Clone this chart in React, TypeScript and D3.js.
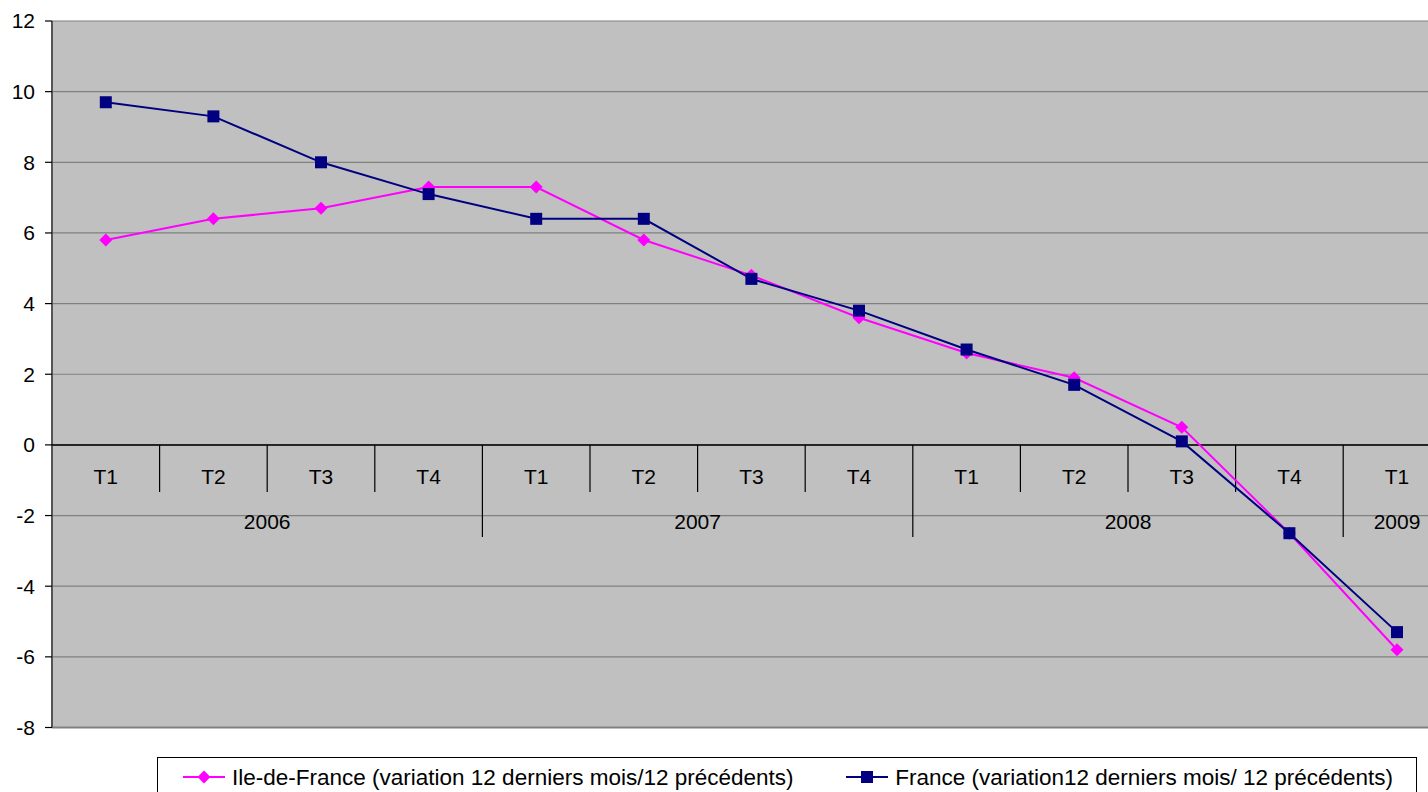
import React from "react";
import * as d3 from "d3";

const quarters = ["T1", "T2", "T3", "T4", "T1", "T2", "T3", "T4", "T1", "T2", "T3", "T4", "T1"];
const years = ["2006", "2007", "2008", "2009"];
const yearSpans = [4, 4, 4, 1];
const ileDeFrance = [5.8, 6.4, 6.7, 7.3, 7.3, 5.8, 4.8, 3.6, 2.6, 1.9, 0.5, -2.5, -5.8];
const france = [9.7, 9.3, 8.0, 7.1, 6.4, 6.4, 4.7, 3.8, 2.7, 1.7, 0.1, -2.5, -5.3];
const yTicks = [12, 10, 8, 6, 4, 2, 0, -2, -4, -6, -8];
const legendLabels = [
  "Ile-de-France (variation 12 derniers mois/12 précédents)",
  "France (variation12 derniers mois/ 12 précédents)",
];

const W = 1428;
const H = 792;
const left = 52;
const top = 21;
const bottom = 727.5;
const band = 107.6;
const font = "Liberation Sans, Arial, sans-serif";
const tickFont = 21;
const legendFont = 22.5;
const sq = 12;
const dr = 6.5;

export default function App() {
  const idx = quarters.map((_, i) => i);
  const x = d3
    .scaleBand<number>()
    .domain(idx)
    .range([left, left + band * quarters.length])
    .paddingInner(0)
    .paddingOuter(0);
  const cx = (i: number) => (x(i) as number) + x.bandwidth() / 2;
  const y = d3.scaleLinear().domain([-8, 12]).range([bottom, top]);
  const right = left + band * quarters.length;

  const line = d3
    .line<number>()
    .x((_, i) => cx(i))
    .y((d) => y(d));

  const y0 = y(0);
  let acc = 0;
  const yearPos = years.map((yr, k) => {
    const start = acc;
    acc += yearSpans[k];
    return { yr, start, end: acc };
  });

  const diamond = (px: number, py: number, r = dr) =>
    `M${px},${py - r}L${px + r},${py}L${px},${py + r}L${px - r},${py}Z`;

  const legendY = 777;

  return (
    <svg
      width={W}
      height={H}
      style={{ position: "fixed", left: 0, top: 0, background: "#fff" }}
    >
      <rect x={left} y={top} width={right - left} height={bottom - top} fill="#c0c0c0" />
      {/* gridlines */}
      {yTicks.map((t) => (
        <line
          key={"g" + t}
          x1={left}
          x2={right}
          y1={y(t)}
          y2={y(t)}
          stroke="#808080"
          strokeWidth={1.2}
        />
      ))}
      <line x1={left} x2={right} y1={bottom} y2={bottom} stroke="#808080" strokeWidth={2} />
      {/* value axis */}
      <line x1={left} x2={left} y1={top} y2={bottom} stroke="#555" strokeWidth={2} />
      {yTicks.map((t) => (
        <g key={"t" + t}>
          <line x1={left - 7} x2={left} y1={y(t)} y2={y(t)} stroke="#000" strokeWidth={1.2} />
          <text
            x={35}
            y={y(t)}
            dy="0.35em"
            textAnchor="end"
            fontFamily={font}
            fontSize={tickFont}
            fill="#000"
          >
            {t}
          </text>
        </g>
      ))}
      {/* category axis at zero */}
      <line x1={left} x2={right} y1={y0} y2={y0} stroke="#000" strokeWidth={1.5} />
      {idx.slice(1).map((i) => {
        const isYear = yearPos.some((p) => p.start === i);
        return (
          <line
            key={"s" + i}
            x1={x(i) as number}
            x2={x(i) as number}
            y1={y0}
            y2={y0 + (isYear ? 92 : 47)}
            stroke="#000"
            strokeWidth={1.2}
          />
        );
      })}
      {quarters.map((q, i) => (
        <text
          key={"q" + i}
          x={cx(i)}
          y={y0 + 32}
          dy="0.35em"
          textAnchor="middle"
          fontFamily={font}
          fontSize={tickFont}
          fill="#000"
        >
          {q}
        </text>
      ))}
      {yearPos.map((p) => (
        <text
          key={"y" + p.yr}
          x={((x(p.start) as number) + (x(p.end - 1) as number) + x.bandwidth()) / 2}
          y={y0 + 77}
          dy="0.35em"
          textAnchor="middle"
          fontFamily={font}
          fontSize={tickFont}
          fill="#000"
        >
          {p.yr}
        </text>
      ))}
      {/* series */}
      <path d={line(ileDeFrance) || ""} fill="none" stroke="#ff00ff" strokeWidth={2} />
      <path d={line(france) || ""} fill="none" stroke="#000080" strokeWidth={2} />
      {ileDeFrance.map((v, i) => (
        <path key={"d" + i} d={diamond(cx(i), y(v))} fill="#ff00ff" />
      ))}
      {france.map((v, i) => (
        <rect
          key={"r" + i}
          x={cx(i) - sq / 2}
          y={y(v) - sq / 2}
          width={sq}
          height={sq}
          fill="#000080"
        />
      ))}
      {/* legend */}
      <rect x={157.5} y={757.5} width={1259} height={40} fill="#fff" stroke="#000" strokeWidth={1} />
      <line x1={183} x2={225} y1={legendY} y2={legendY} stroke="#ff00ff" strokeWidth={2} />
      <path d={diamond(204, legendY)} fill="#ff00ff" />
      <text x={232} y={legendY} dy="0.35em" fontFamily={font} fontSize={legendFont} fill="#000">
        {legendLabels[0]}
      </text>
      <line x1={846} x2={888} y1={legendY} y2={legendY} stroke="#000080" strokeWidth={2} />
      <rect x={867 - sq / 2} y={legendY - sq / 2} width={sq} height={sq} fill="#000080" />
      <text
        x={1393}
        y={legendY}
        dy="0.35em"
        textAnchor="end"
        fontFamily={font}
        fontSize={legendFont}
        fill="#000"
      >
        {legendLabels[1]}
      </text>
    </svg>
  );
}
